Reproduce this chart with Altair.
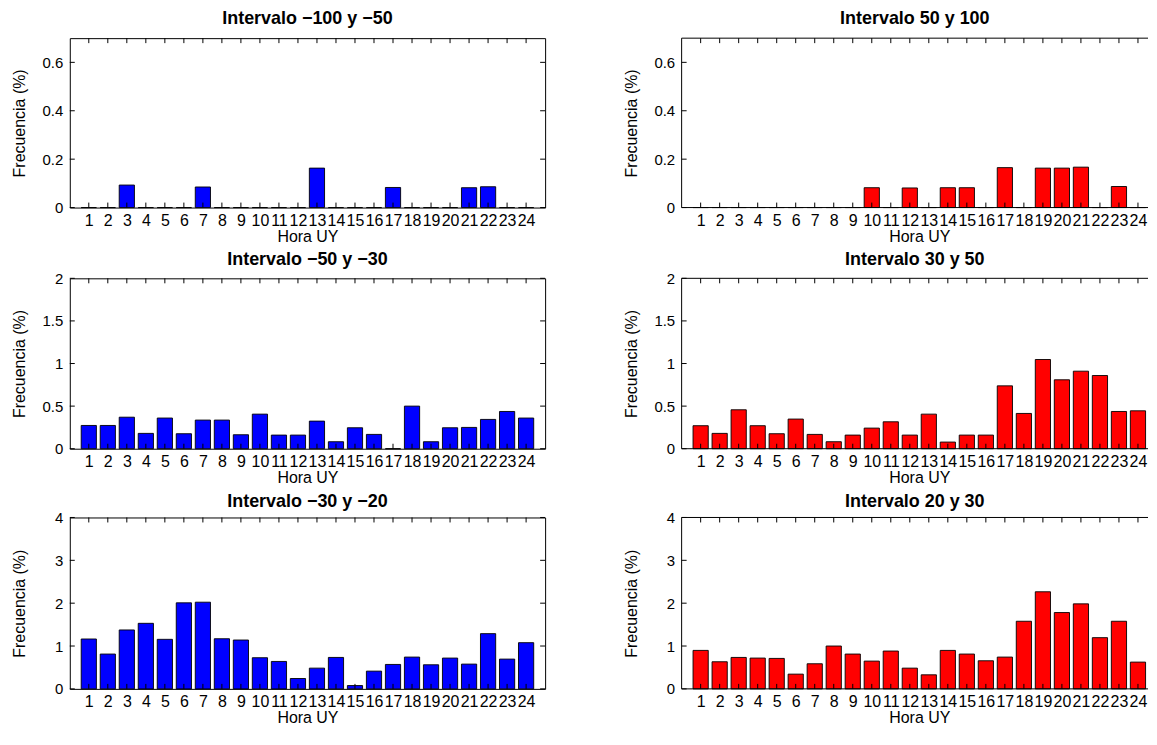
import altair as alt
import pandas as pd

hours = list(range(1, 25))

v_m100_m50 = [0, 0, 0.093, 0, 0, 0, 0.085, 0, 0, 0, 0, 0, 0.163, 0, 0, 0, 0.083, 0, 0, 0, 0.082, 0.086, 0, 0]
v_50_100 = [0, 0, 0, 0, 0, 0, 0, 0, 0, 0.082, 0, 0.081, 0, 0.082, 0.082, 0, 0.165, 0, 0.163, 0.163, 0.167, 0, 0.087, 0]
v_m50_m30 = [0.273, 0.273, 0.37, 0.18, 0.36, 0.176, 0.336, 0.336, 0.164, 0.406, 0.16, 0.16, 0.324, 0.082, 0.246, 0.168, 0, 0.5, 0.082, 0.246, 0.25, 0.344, 0.437, 0.36]
v_30_50 = [0.27, 0.18, 0.457, 0.27, 0.176, 0.348, 0.168, 0.082, 0.16, 0.242, 0.316, 0.16, 0.406, 0.078, 0.16, 0.16, 0.738, 0.414, 1.047, 0.809, 0.91, 0.859, 0.437, 0.445]
v_m30_m20 = [1.164, 0.8125, 1.375, 1.53, 1.156, 2.008, 2.023, 1.17, 1.14, 0.727, 0.64, 0.242, 0.484, 0.734, 0.078, 0.414, 0.57, 0.742, 0.5625, 0.719, 0.578, 1.289, 0.695, 1.078]
v_20_30 = [0.898, 0.633, 0.734, 0.719, 0.711, 0.344, 0.586, 1.0, 0.8125, 0.648, 0.883, 0.484, 0.328, 0.898, 0.8125, 0.656, 0.742, 1.578, 2.266, 1.781, 1.984, 1.195, 1.578, 0.625]

titles = ["Intervalo \u2212100 y \u221250", "Intervalo 50 y 100",
          "Intervalo \u221250 y \u221230", "Intervalo 30 y 50",
          "Intervalo \u221230 y \u221220", "Intervalo 20 y 30"]
ymax_rows = [0.7, 2, 4]
yticks_rows = [[0, 0.2, 0.4, 0.6], [0, 0.5, 1, 1.5, 2], [0, 1, 2, 3, 4]]
heights = [170, 171, 172]
title_offsets = [10, 2, 0]

BLUE = "#0000ff"
RED = "#ff0000"
FONT = "Liberation Sans"
W = 477          # full axes width (as in the original figure)
W_RIGHT = 468    # right column is cut by the window edge, like the original
TL = 5


def panel(values, title, ymax, yticks, H, color, toff, clipped):
    w = W_RIGHT if clipped else W
    xmax = 25 * w / W
    df = pd.DataFrame({"h": hours, "v": values})
    xs = alt.Scale(domain=[0, xmax], nice=False, zero=False)
    ys = alt.Scale(domain=[0, ymax], nice=False)
    xax = alt.Axis(
        values=hours, tickSize=0, domain=False, grid=False,
        labelPadding=5, labelOverlap=False, labelFlush=False, labelBound=False,
        labelFontSize=16, title="Hora UY", titleFontSize=16, titlePadding=0,
        titleX=W / 2)
    yax = alt.Axis(
        values=yticks, format="~g", tickSize=0, domain=False, grid=False,
        labelPadding=7, labelFontSize=15, title="Frecuencia (%)",
        titleFontSize=16, titleX=-42, titleY=H / 2)
    bars = alt.Chart(df).transform_calculate(
        x0="datum.h - 0.4", x1="datum.h + 0.4", z="0"
    ).mark_bar(color=color, stroke="black", strokeWidth=0.9).encode(
        x=alt.X("x0:Q", scale=xs, axis=xax),
        x2="x1:Q",
        y=alt.Y("v:Q", scale=ys, axis=yax),
        y2="z:Q",
    )
    tdf = pd.DataFrame({"h": hours})
    ydf = pd.DataFrame({"t": yticks})
    one = pd.DataFrame({"k": [0]})
    rule = dict(color="black", strokeWidth=1)
    layers = [bars]
    layers.append(alt.Chart(tdf).mark_rule(**rule).encode(
        x=alt.X("h:Q", scale=xs, axis=xax), y=alt.value(H), y2=alt.value(H - TL)))
    layers.append(alt.Chart(tdf).mark_rule(**rule).encode(
        x=alt.X("h:Q", scale=xs, axis=xax), y=alt.value(0), y2=alt.value(TL)))
    layers.append(alt.Chart(ydf).mark_rule(**rule).encode(
        y=alt.Y("t:Q", scale=ys, axis=yax), x=alt.value(0), x2=alt.value(TL)))
    if clipped:
        # frame without the right side (it lies beyond the picture edge)
        layers.append(alt.Chart(one).mark_rule(**rule).encode(
            x=alt.value(0), y=alt.value(0), y2=alt.value(H)))
        layers.append(alt.Chart(one).mark_rule(**rule).encode(
            x=alt.value(0), x2=alt.value(w), y=alt.value(0)))
        layers.append(alt.Chart(one).mark_rule(**rule).encode(
            x=alt.value(0), x2=alt.value(w), y=alt.value(H)))
    else:
        layers.append(alt.Chart(ydf).mark_rule(**rule).encode(
            y=alt.Y("t:Q", scale=ys, axis=yax), x=alt.value(w - TL), x2=alt.value(w)))
    props = dict(width=w, height=H,
                 title=alt.TitleParams(title, fontSize=18, fontWeight="bold", font=FONT,
                                       offset=toff, anchor="middle", color="black"))
    if clipped:
        props["view"] = alt.ViewBackground(stroke=None)
    return alt.layer(*layers).properties(**props)


data = [(v_m100_m50, v_50_100), (v_m50_m30, v_30_50), (v_m30_m20, v_20_30)]
rows = []
for i, (lv, rv) in enumerate(data):
    left = panel(lv, titles[2 * i], ymax_rows[i], yticks_rows[i], heights[i], BLUE,
                 title_offsets[i], False)
    right = panel(rv, titles[2 * i + 1], ymax_rows[i], yticks_rows[i], heights[i], RED,
                  title_offsets[i], True)
    rows.append(alt.hconcat(left, right, spacing=78))

chart = alt.vconcat(*rows, spacing=5).properties(
    padding={"left": 3, "top": 0, "right": 0, "bottom": 0}
).configure_axis(
    labelFont=FONT, titleFont=FONT, labelColor="black", titleColor="black",
    titleFontWeight="normal"
).configure_view(stroke="black", strokeWidth=1)

chart.save("out.html", embed_options={"renderer": "svg", "actions": False})
